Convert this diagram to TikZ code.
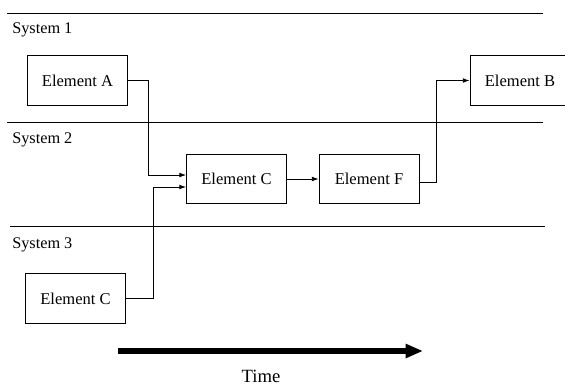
\documentclass[tikz,border=0pt]{standalone}
\usepackage{fontspec}
\setmainfont{Liberation Serif}
\usetikzlibrary{arrows.meta, positioning}

\begin{document}
\begin{tikzpicture}[x=0.75pt, y=-0.75pt,
  elem/.style    = {draw, minimum width=75pt, minimum height=37pt,
                    inner sep=0pt, line width=0.6pt,
                    font=\fontsize{12.4}{14}\selectfont},
  syslbl/.style  = {anchor=west, inner sep=0pt,
                    font=\fontsize{12.2}{14}\selectfont},
  sepline/.style = {line width=0.7pt},
  flow/.style    = {-{Latex[length=5pt,width=3.5pt]}, line width=0.6pt},
  timearr/.style = {-{Triangle[length=13pt,width=10pt]}, line width=3.8pt},
]
\useasboundingbox (0,0) rectangle (565,387);

%% -- System bands ---------------------------------------------------
\draw[sepline] (7,13)  -- (543,13);
\draw[sepline] (7,122) -- (543,122);
\draw[sepline] (10,226) -- (545,226);
\node[syslbl] (sys1) at (12,30)  {System 1};
\node[syslbl] (sys2) at (12,140) {System 2};
\node[syslbl] (sys3) at (12,245) {System 3};

%% -- Elements -------------------------------------------------------
\node[elem] (elA)  at (77.5,80.5)  {Element A};
\node[elem] (elB)  at (520,80.5)   {Element B};
\node[elem] (elC)  at (236.5,179)  {Element C};
\node[elem] (elF)  at (369,179)    {Element F};
\node[elem] (elC3) at (75.5,298.5) {Element C};

%% -- Flows ----------------------------------------------------------
\draw[flow] (elA.east) -| (148,175) -- (elC.west |- 0,175);
\draw[flow] (elC3.east) -| (153,187) -- (elC.west |- 0,187);
\draw[flow] (elC) -- (elF);
\draw[flow] (elF.east |- 0,182) -| (436,80.5) -- (elB.west);

%% -- Time axis ------------------------------------------------------
\coordinate (t0) at (118,351);
\coordinate (t1) at (423,351);
\draw[timearr] (t0) -- (t1);
\node[font=\fontsize{14}{16}\selectfont, inner sep=1pt] (time) at (261,376) {Time};

\end{tikzpicture}
\end{document}
